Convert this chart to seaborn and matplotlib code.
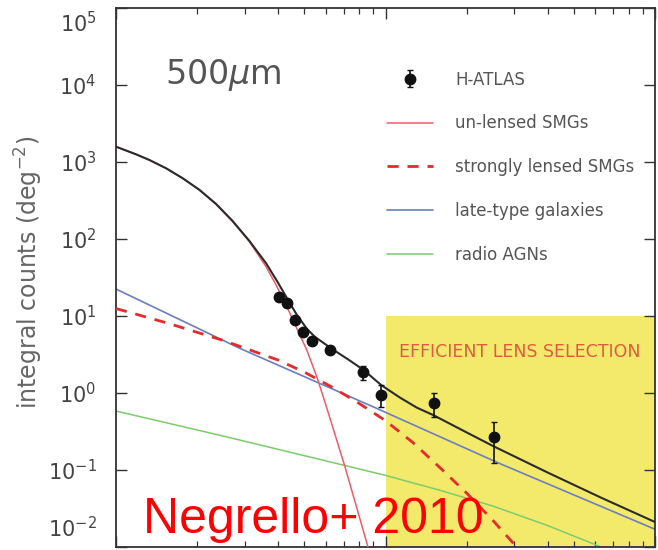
import math
import matplotlib
matplotlib.use("Agg")
import matplotlib.pyplot as plt
import seaborn as sns
import pandas as pd
from matplotlib.ticker import LogLocator, NullLocator, NullFormatter
from matplotlib.transforms import ScaledTranslation

# ---- H-ATLAS 500 micron integral counts (flux in mJy, counts in deg^-2) ----
obs_flux = [40.3, 43.2, 46.2, 49.4, 53.4, 62.2, 82.6, 96.2, 151.0, 253.0]
obs_counts = [17.6, 14.8, 8.87, 6.2, 4.73, 3.62, 1.87, 0.94, 0.74, 0.27]
obs_low = [16.4, 13.8, 8.2, 5.7, 4.35, 3.3, 1.48, 0.66, 0.49, 0.123]
obs_high = [18.8, 15.8, 9.5, 6.7, 5.1, 3.95, 2.24, 1.27, 1.00, 0.42]

# ---- model predictions ----
unlensed_flux = [10, 11.86, 13.30, 15.35, 17.66, 20.37, 23.50, 27.10, 31.26, 36.06,
                 39.26, 42.76, 51.05, 55.59, 58.75, 62.23, 70.79, 86.10]
unlensed_counts = [1581, 1259, 1062, 828, 614, 432, 282, 168, 92.3, 43.6,
                   25.3, 13.9, 3.61, 1.63, 0.895, 0.469, 0.109, 0.010]

lensed_flux = [10, 15.8, 25.1, 39.8, 50.1, 63.1, 79.4, 100, 126, 158, 200, 251, 316]
lensed_counts = [12.5, 7.94, 4.79, 2.69, 1.86, 1.20, 0.741, 0.437, 0.229, 0.110,
                 0.0501, 0.0219, 0.0089]

latetype_flux = [10, 28.8, 92.7, 263, 1000]
latetype_counts = [22.4, 3.80, 0.632, 0.123, 0.0170]

agn_flux = [10, 25.1, 63.1, 100, 158, 251, 398, 631]
agn_counts = [0.583, 0.275, 0.126, 0.0851, 0.0550, 0.0339, 0.0191, 0.0100]

total_flux = [10, 11.86, 13.30, 15.35, 17.66, 20.37, 23.50, 27.10, 31.26, 36.06,
              39.81, 44.26, 46.77, 51.17, 54.70, 58.88, 63.10, 72.44, 82.79, 96.6,
              113.2, 130.6, 150.0, 199.5, 251.2, 398.1, 631.0, 1000]
total_counts = [1581, 1259, 1062, 828, 617, 437, 286, 171, 94.4, 48.3,
                27.5, 14.5, 10.5, 6.76, 5.37, 4.47, 3.76, 2.75, 2.00, 1.26,
                0.871, 0.646, 0.519, 0.309, 0.204, 0.0933, 0.0437, 0.0211]

# flux window where lens selection is efficient
lens_flux = [100, 1000]
lens_floor = [1e-2, 1e-2]
lens_ceiling = [10, 10]

sns.set_style("ticks")
plt.rcParams["font.family"] = ["DejaVu Sans"]
plt.rcParams["mathtext.fontset"] = "dejavusans"

fig = plt.figure(figsize=(6.58, 5.5), dpi=100)
ax = fig.add_axes([116 / 658, 3 / 550, 539 / 658, 539 / 550])
ax.set_xscale("log")
ax.set_yscale("log")

ax.fill_between(lens_flux, lens_floor, lens_ceiling, color="#f3ea6c", lw=0, zorder=0)
ax.text(316, 3.4, "EFFICIENT LENS SELECTION", ha="center", va="center",
        fontsize=12.5, color="#e05a40", zorder=1)


def curve(x, y, **kw):
    sns.lineplot(data=pd.DataFrame({"S": x, "N": y}), x="S", y="N", ax=ax,
                 estimator=None, sort=True, **kw)


curve(agn_flux, agn_counts, color="#7ccc6c", lw=1.1, label="radio AGNs", zorder=2)
curve(latetype_flux, latetype_counts, color="#6a7ec0", lw=1.2,
      label="late-type galaxies", zorder=2)
curve(lensed_flux, lensed_counts, color="#e52b2b", lw=2.0, ls=(0, (4, 3.2)),
      label="strongly lensed SMGs", zorder=3)
curve(unlensed_flux, unlensed_counts, color="#ee5c68", lw=1.1,
      label="un-lensed SMGs", zorder=3)
curve(total_flux, total_counts, color="#2b2b2b", lw=1.5, zorder=4)

yerr = [[c - lo for c, lo in zip(obs_counts, obs_low)],
        [hi - c for c, hi in zip(obs_counts, obs_high)]]
ax.errorbar(obs_flux, obs_counts, yerr=yerr, fmt="o", color="#111111", ms=7.5,
            elinewidth=1.2, capsize=2.2, capthick=1.0, label="H-ATLAS", zorder=5)

ax.set_xlim(10, 1000)
ax.set_ylim(1e-2, 1e5)

ax.yaxis.set_major_locator(LogLocator(base=10, numticks=20))
ax.yaxis.set_minor_locator(NullLocator())
ax.xaxis.set_major_locator(LogLocator(base=10, numticks=20))
ax.xaxis.set_minor_locator(LogLocator(base=10, subs=range(2, 10), numticks=20))
ax.xaxis.set_major_formatter(NullFormatter())
ax.xaxis.set_minor_formatter(NullFormatter())
ax.tick_params(which="both", direction="in", top=True, right=True, color="#333333",
               labelbottom=False)
ax.tick_params(which="major", length=8, width=1.0)
ax.tick_params(which="minor", length=4, width=0.9)
ax.tick_params(axis="y", labelsize=15, labelcolor="#444444", pad=14)
for sp in ax.spines.values():
    sp.set_color("#333333")
    sp.set_linewidth(1.3)

ax.set_xlabel("")
ax.set_ylabel(r"integral counts (deg$^{-2}$)", fontsize=17, color="#666666")
ax.yaxis.set_label_coords(-0.132, 0.51)

ax.text(0.091, 0.876, r"500$\mu$m", transform=ax.transAxes, fontsize=24,
        color="#555555", ha="left", va="center")

handles, labels = ax.get_legend_handles_labels()
lookup = dict(zip(labels, handles))
order = ["H-ATLAS", "un-lensed SMGs", "strongly lensed SMGs",
         "late-type galaxies", "radio AGNs"]
leg = ax.legend([lookup[k] for k in order], order, loc="upper left",
                bbox_to_anchor=(0.503, 0.884), frameon=False, fontsize=12,
                handlelength=2.75, handletextpad=1.32, labelspacing=1.55,
                borderpad=0, borderaxespad=0)
for t in leg.get_texts():
    t.set_color("#555555")

fig.text(143 / 658, 17 / 550, "Negrello+ 2010", family="Liberation Sans",
         fontsize=36, color="#ff0000", va="baseline", ha="left")

# keep the end decade labels inside the frame
fig.canvas.draw()
for tick in ax.yaxis.get_major_ticks():
    loc = tick.get_loc()
    if loc > 0:
        exponent = round(math.log10(loc))
        if exponent == 5:
            tick.label1.set_verticalalignment("top")
            tick.label1.set_transform(tick.label1.get_transform()
                                      + ScaledTranslation(0, -2 / 72, fig.dpi_scale_trans))
        elif exponent == -2:
            tick.label1.set_verticalalignment("bottom")
            tick.label1.set_transform(tick.label1.get_transform()
                                      + ScaledTranslation(0, 4 / 72, fig.dpi_scale_trans))

fig.savefig("out.png", dpi=100)
